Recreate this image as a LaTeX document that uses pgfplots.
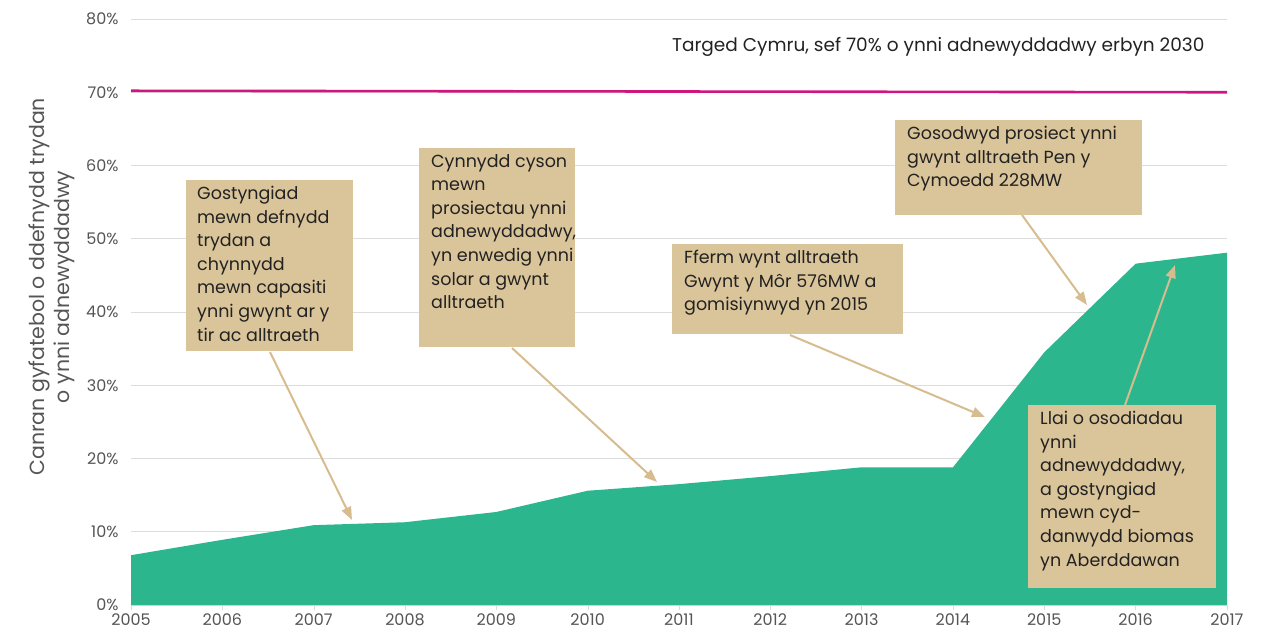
\documentclass[border=0pt]{standalone}
\usepackage{fontspec}
\setmainfont{Poppins}
\usepackage{pgfplots}
\pgfplotsset{compat=1.18}
\usetikzlibrary{arrows.meta}
\definecolor{Area}{HTML}{2BB68E}
\definecolor{Target}{HTML}{D0157F}
\definecolor{Box}{HTML}{DAC499}
\definecolor{Arrow}{HTML}{D6BC8E}
\definecolor{Txt}{HTML}{222222}
\definecolor{Tick}{HTML}{555555}
\definecolor{Grid}{HTML}{DDDDDD}

\pgfplotstableread{
year share
2005 6.8
2006 8.9
2007 10.9
2008 11.3
2009 12.7
2010 15.6
2011 16.5
2012 17.6
2013 18.8
2014 18.8
2015 34.5
2016 46.6
2017 48.1
}\renewables

\begin{document}
\begin{tikzpicture}[x=1pt,y=1pt]
\useasboundingbox (0,0) rectangle (1268,-632);
\begin{axis}[
  at={(131pt,-605pt)}, anchor=south west,
  scale only axis, width=1096pt, height=586pt,
  xmin=2005, xmax=2017, ymin=0, ymax=80,
  xtick={2005,...,2017}, ytick={0,10,...,80},
  xticklabel style={/pgf/number format/1000 sep={}},
  yticklabel={\pgfmathprintnumber{\tick}\%},
  /pgf/number format/assume math mode=true,
  tick label style={font=\fontsize{16}{16}\selectfont, color=Tick},
  axis lines=left,
  x axis line style={Grid, -},
  y axis line style={draw=none},
  xtick style={Grid}, ytick style={draw=none},
  major tick length=5pt,
  tick align=outside,
  yticklabel style={xshift=-4pt},
  ymajorgrids, major grid style={Grid, line width=0.8pt},
  ylabel={Canran gyfatebol o ddefnydd trydan\\o ynni adnewyddadwy},
  every axis y label/.style={at={(-0.072,0.543)}, rotate=90, anchor=center,
    align=center, font=\fontsize{20.5}{25}\selectfont, color=Tick},
  clip=false,
]
\addplot[draw=none, fill=Area] table[x=year, y=share] {\renewables} \closedcycle;
\addplot[Target, line width=2.6pt] coordinates {(2005,70.2) (2017,70.0)};
\end{axis}

\begin{scope}[y=-1pt]
\node[anchor=base east, font=\fontsize{18.5}{18.5}\selectfont, color=Txt] at (1208,51) {Targed Cymru, sef 70\% o ynni adnewyddadwy erbyn 2030};

\tikzset{ann/.style={anchor=north west, align=left, inner sep=0pt, color=Txt, font=\fontsize{17.5}{23.6}\selectfont},
         arr/.style={Arrow, line width=2pt, -{Triangle[length=13pt,width=10pt]}}}

\draw[arr] (270,352) -- (352,520);
\draw[arr] (512,348) -- (657,482);
\draw[arr] (790,335) -- (985,417);
\draw[arr] (1022,215) -- (1087,305);
\draw[arr] (1125,405) -- (1175,265);

\fill[Box] (186,180) rectangle (353,351);
\node[ann] at (197,186) {Gostyngiad\\mewn defnydd\\trydan a\\chynnydd\\mewn capasiti\\ynni gwynt ar y\\tir ac alltraeth};

\fill[Box] (419,148) rectangle (575,347);
\node[ann] at (431,154) {Cynnydd cyson\\mewn\\prosiectau ynni\\adnewyddadwy,\\yn enwedig ynni\\solar a gwynt\\alltraeth};

\fill[Box] (672,244) rectangle (903,334);
\node[ann] at (684,250) {Fferm wynt alltraeth\\Gwynt y Môr 576MW a\\gomisiynwyd yn 2015};

\fill[Box] (895,120) rectangle (1142,215);
\node[ann] at (907,126) {Gosodwyd prosiect ynni\\gwynt alltraeth Pen y\\Cymoedd 228MW};

\fill[Box] (1028,405) rectangle (1216,588);
\node[ann] at (1040,411) {Llai o osodiadau\\ynni\\adnewyddadwy,\\a gostyngiad\\mewn cyd-\\danwydd biomas\\yn Aberddawan};
\end{scope}
\end{tikzpicture}
\end{document}
